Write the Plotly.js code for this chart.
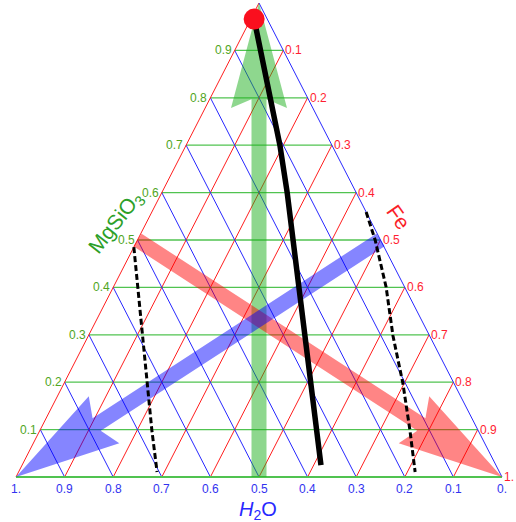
<!DOCTYPE html>
<html>
<head>
<meta charset="utf-8">
<script src="https://cdn.plot.ly/plotly-3.0.1.min.js"></script>
<style>body{margin:0;background:#fff}</style>
</head>
<body>
<div id="chart" style="width:516px;height:522px"></div>
<script>
// ternary composition: a = MgSiO3 (top), b = H2O (bottom left), c = Fe (bottom right)
var gridTicks = [0.1, 0.2, 0.3, 0.4, 0.5, 0.6, 0.7, 0.8, 0.9];
var leftLabels = ['0.1', '0.2', '0.3', '0.4', '0.5', '0.6', '0.7', '0.8', '0.9'];
var rightVals = [0.1, 0.2, 0.3, 0.4, 0.5, 0.6, 0.7, 0.8, 0.9, 1];
var rightLabels = ['0.1', '0.2', '0.3', '0.4', '0.5', '0.6', '0.7', '0.8', '0.9', '1.'];
var bottomVals = [1, 0.9, 0.8, 0.7, 0.6, 0.5, 0.4, 0.3, 0.2, 0.1, 0];
var bottomLabels = ['1.', '0.9', '0.8', '0.7', '0.6', '0.5', '0.4', '0.3', '0.2', '0.1', '0.'];

// thick black path
var solidA = [0.966, 0.9, 0.8, 0.7, 0.6, 0.5, 0.4, 0.3, 0.2, 0.1, 0.025];
var solidC = [0.007, 0.053, 0.124, 0.193, 0.258, 0.32, 0.382, 0.446, 0.506, 0.568, 0.615];

// dashed boundaries
var dashLeftA = [0.485, 0.373, 0.297, 0.198, 0.099, 0.0105];
var dashLeftC = [0.0, 0.067, 0.111, 0.171, 0.230, 0.285];
var dashRightA = [0.559, 0.5, 0.401, 0.2975, 0.198, 0.099, 0.0105];
var dashRightC = [0.441, 0.489, 0.561, 0.627, 0.697, 0.761, 0.816];

// red point
var dotA = [0.966];
var dotC = [0.007];

// big arrows [a, b, c]
var greenFrom = [0, 0.5, 0.5], greenTo = [1, 0, 0];
var blueFrom = [0.5, 0, 0.5], blueTo = [0, 1, 0];
var redFrom = [0.5, 0.5, 0], redTo = [0, 0, 1];

var SX = 486, SY = 474; // pixels per unit on x and y

function pt(a, b, c) {
    var s = a + b + c;
    return [(c + a / 2) / s, a / s];
}

function gridTrace(color, width, segs) {
    var x = [], y = [];
    segs.forEach(function(s) {
        var p = pt(s[0][0], s[0][1], s[0][2]);
        var q = pt(s[1][0], s[1][1], s[1][2]);
        x.push(p[0], q[0], null);
        y.push(p[1], q[1], null);
    });
    return {x: x, y: y, type: 'scatter', mode: 'lines', hoverinfo: 'skip',
            line: {color: color, width: width}};
}

var greenSegs = [], redSegs = [], blueSegs = [];
gridTicks.forEach(function(k) {
    greenSegs.push([[k, 1 - k, 0], [k, 0, 1 - k]]);
    redSegs.push([[0, 1 - k, k], [1 - k, 0, k]]);
    blueSegs.push([[0, k, 1 - k], [1 - k, k, 0]]);
});

function arrowTrace(from, to, color) {
    var p0 = pt(from[0], from[1], from[2]);
    var p1 = pt(to[0], to[1], to[2]);
    var X0 = p0[0] * SX, Y0 = p0[1] * SY, X1 = p1[0] * SX, Y1 = p1[1] * SY;
    var len = Math.hypot(X1 - X0, Y1 - Y0);
    var ux = (X1 - X0) / len, uy = (Y1 - Y0) / len;
    var nx = -uy, ny = ux;
    var w = 7.5, L = 105, H = 28, N = 93;
    var bx = X1 - ux * L, by = Y1 - uy * L;
    var mx = X1 - ux * N, my = Y1 - uy * N;
    var t = w / H;
    var pts = [
        [X0 + nx * w, Y0 + ny * w],
        [mx + t * (bx + nx * H - mx), my + t * (by + ny * H - my)],
        [bx + nx * H, by + ny * H],
        [X1, Y1],
        [bx - nx * H, by - ny * H],
        [mx + t * (bx - nx * H - mx), my + t * (by - ny * H - my)],
        [X0 - nx * w, Y0 - ny * w]
    ];
    return {
        x: pts.map(function(p) { return p[0] / SX; }),
        y: pts.map(function(p) { return p[1] / SY; }),
        type: 'scatter', mode: 'lines', fill: 'toself', fillcolor: color,
        line: {width: 0, color: color}, hoverinfo: 'skip'
    };
}

function lineTrace(aArr, cArr, style) {
    var x = [], y = [];
    aArr.forEach(function(a, i) {
        var p = pt(a, 1 - a - cArr[i], cArr[i]);
        x.push(p[0]);
        y.push(p[1]);
    });
    return {x: x, y: y, type: 'scatter', mode: 'lines', line: style, hoverinfo: 'skip'};
}

var dotPt = pt(dotA[0], 1 - dotA[0] - dotC[0], dotC[0]);

var data = [
    gridTrace('rgb(80,195,80)', 1.3, greenSegs),
    gridTrace('rgb(255,30,30)', 1, redSegs),
    gridTrace('rgb(40,40,255)', 1, blueSegs),
    gridTrace('rgb(255,30,30)', 1, [[[0, 1, 0], [1, 0, 0]]]),
    gridTrace('rgb(40,40,255)', 1, [[[0, 0, 1], [1, 0, 0]]]),
    gridTrace('rgb(80,195,80)', 2.2, [[[0, 1, 0], [0, 0, 1]]]),
    arrowTrace(greenFrom, greenTo, 'rgba(30,175,30,0.5)'),
    arrowTrace(redFrom, redTo, 'rgba(255,0,0,0.48)'),
    arrowTrace(blueFrom, blueTo, 'rgba(0,0,255,0.48)'),
    lineTrace(dashLeftA, dashLeftC, {color: '#000', width: 3, dash: '6px,3px'}),
    lineTrace(dashRightA, dashRightC, {color: '#000', width: 3, dash: '6px,3px'}),
    lineTrace(solidA, solidC, {color: '#000', width: 5.5}),
    {x: [dotPt[0]], y: [dotPt[1]], type: 'scatter', mode: 'markers', hoverinfo: 'skip',
     marker: {color: 'rgb(250,15,30)', size: 21}}
];

var annotations = [];
var tickFont = {family: 'Liberation Sans, Arial, sans-serif', size: 12};
gridTicks.forEach(function(k, i) {
    var p = pt(k, 1 - k, 0);
    annotations.push({x: p[0], y: p[1], xref: 'x', yref: 'y', text: leftLabels[i],
        showarrow: false, xanchor: 'right', yanchor: 'middle', xshift: -1,
        font: Object.assign({}, tickFont, {color: 'rgb(80,165,35)'})});
});
rightVals.forEach(function(k, i) {
    var p = pt(1 - k, 0, k);
    annotations.push({x: p[0], y: p[1], xref: 'x', yref: 'y', text: rightLabels[i],
        showarrow: false, xanchor: 'left', yanchor: 'middle', xshift: 0,
        font: Object.assign({}, tickFont, {color: 'rgb(255,30,50)'})});
});
bottomVals.forEach(function(k, i) {
    var p = pt(0, k, 1 - k);
    annotations.push({x: p[0], y: p[1], xref: 'x', yref: 'y', text: bottomLabels[i],
        showarrow: false, xanchor: 'center', yanchor: 'top', yshift: -3,
        font: Object.assign({}, tickFont, {color: 'rgb(50,50,240)'})});
});
var titleFont = 'Liberation Sans, Arial, sans-serif';
annotations.push(
    {xref: 'paper', yref: 'paper', x: 116 / 516, y: 1 - 223 / 522, text: 'MgSiO<sub>3</sub>',
     xanchor: 'center', yanchor: 'middle',
     showarrow: false, textangle: -52, font: {family: titleFont, size: 21, color: 'rgb(45,160,40)'}},
    {xref: 'paper', yref: 'paper', x: 398 / 516, y: 1 - 217 / 522, text: 'Fe',
     xanchor: 'center', yanchor: 'middle',
     showarrow: false, textangle: 55, font: {family: titleFont, size: 21, color: 'rgb(250,30,40)'}},
    {xref: 'paper', yref: 'paper', x: 258 / 516, y: 1 - 510 / 522, text: '<i>H</i><sub>2</sub>O',
     xanchor: 'center', yanchor: 'middle',
     showarrow: false, font: {family: titleFont, size: 20, color: 'rgb(40,40,255)'}}
);

var layout = {
    width: 516, height: 522,
    margin: {l: 0, r: 0, t: 0, b: 0},
    paper_bgcolor: '#fff', plot_bgcolor: '#fff',
    showlegend: false,
    xaxis: {range: [-16 / SX, 500 / SX], visible: false, fixedrange: true},
    yaxis: {range: [-45 / SY, 477 / SY], visible: false, fixedrange: true},
    annotations: annotations
};

Plotly.newPlot('chart', data, layout, {displayModeBar: false, staticPlot: true});
</script>
</body>
</html>
